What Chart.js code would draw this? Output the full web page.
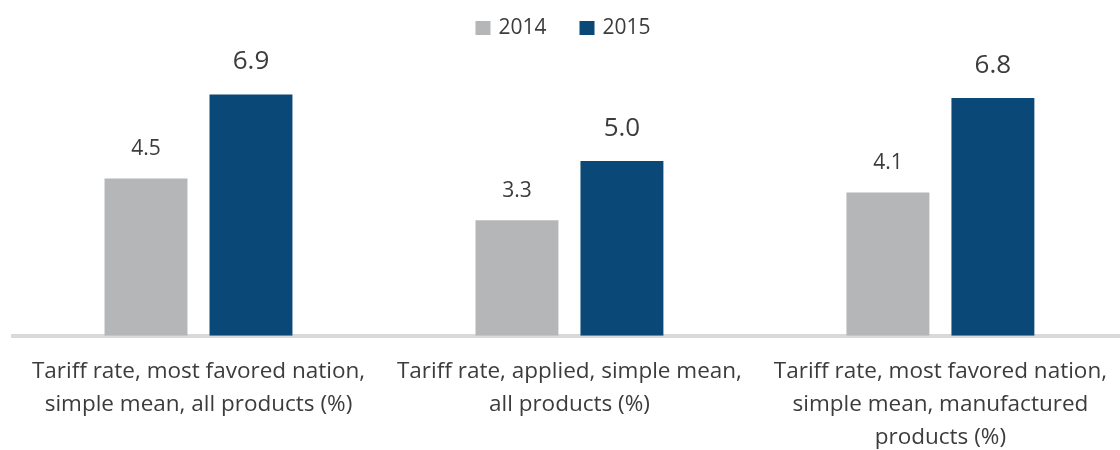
<!DOCTYPE html>
<html>
<head>
<meta charset="utf-8">
<script src="https://cdn.jsdelivr.net/npm/chart.js@4.4.1/dist/chart.umd.min.js"></script>
<style>
  html, body { margin: 0; padding: 0; background: #fff; overflow: hidden; }
  #wrap { width: 1126px; height: 473px; }
</style>
</head>
<body>
<div id="wrap"><canvas id="chart"></canvas></div>
<script>
const categories = [
  ["Tariff rate, most favored nation,", "simple mean, all products (%)"],
  ["Tariff rate, applied, simple mean,", "all products (%)"],
  ["Tariff rate, most favored nation,", "simple mean, manufactured", "products (%)"]
];
const years = ["2014", "2015"];
const values2014 = [4.5, 3.3, 4.1];
const values2015 = [6.9, 5.0, 6.8];

const textColor = "#3c3c3c";
const fontFamily = "'Open Sans', sans-serif";

// value above each bar, smaller for 2014
const valueLabels = {
  id: "valueLabels",
  afterDatasetsDraw(chart) {
    const ctx = chart.ctx;
    chart.data.datasets.forEach((ds, i) => {
      const meta = chart.getDatasetMeta(i);
      const size = i === 0 ? 21 : 26;
      const gap = i === 0 ? 23 : 25;
      ctx.save();
      ctx.font = size + "px " + fontFamily;
      ctx.fillStyle = textColor;
      ctx.textAlign = "center";
      ctx.textBaseline = "alphabetic";
      meta.data.forEach((bar, j) => {
        ctx.fillText(ds.data[j].toFixed(1), bar.x, bar.y - gap);
      });
      ctx.restore();
    });
  }
};

// simple legend centred at the top (built-in one can't do the wide item gap)
const topLegend = {
  id: "topLegend",
  afterDraw(chart) {
    const ctx = chart.ctx;
    const boxW = 15, boxH = 14, textGap = 8, itemGap = 33;
    ctx.save();
    ctx.font = "21px " + fontFamily;
    ctx.textBaseline = "middle";
    const items = chart.data.datasets.map(ds => ({
      text: ds.label,
      color: ds.backgroundColor,
      w: boxW + textGap + ctx.measureText(ds.label).width
    }));
    const total = items.reduce((s, it) => s + it.w, 0) + itemGap * (items.length - 1);
    let x = chart.width / 2 - total / 2;
    const y = 28;
    items.forEach(it => {
      ctx.fillStyle = it.color;
      ctx.fillRect(x, y - boxH / 2, boxW, boxH);
      ctx.fillStyle = textColor;
      ctx.fillText(it.text, x + boxW + textGap, y);
      x += it.w + itemGap;
    });
    ctx.restore();
  }
};

const ctx = document.getElementById("chart").getContext("2d");
new Chart(ctx, {
  type: "bar",
  data: {
    labels: categories,
    datasets: [
      {
        label: years[0],
        data: values2014,
        backgroundColor: "#b5b6b8",
        categoryPercentage: 0.566,
        barPercentage: 0.79
      },
      {
        label: years[1],
        data: values2015,
        backgroundColor: "#0a4878",
        categoryPercentage: 0.566,
        barPercentage: 0.79
      }
    ]
  },
  options: {
    responsive: true,
    maintainAspectRatio: false,
    animation: false,
    layout: { padding: { left: 13, right: 0, top: 56, bottom: 0 } },
    plugins: {
      legend: { display: false },
      tooltip: { enabled: false }
    },
    scales: {
      x: {
        z: 1,
        grid: { display: false, drawTicks: false },
        border: { color: "#d9d9d9", width: 4 },
        ticks: {
          color: textColor,
          padding: 19,
          maxRotation: 0,
          autoSkip: false,
          font: { family: fontFamily, size: 22.5, lineHeight: 1.47 }
        }
      },
      y: {
        display: false,
        min: 0,
        max: 8
      }
    }
  },
  plugins: [valueLabels, topLegend]
});
</script>
</body>
</html>
